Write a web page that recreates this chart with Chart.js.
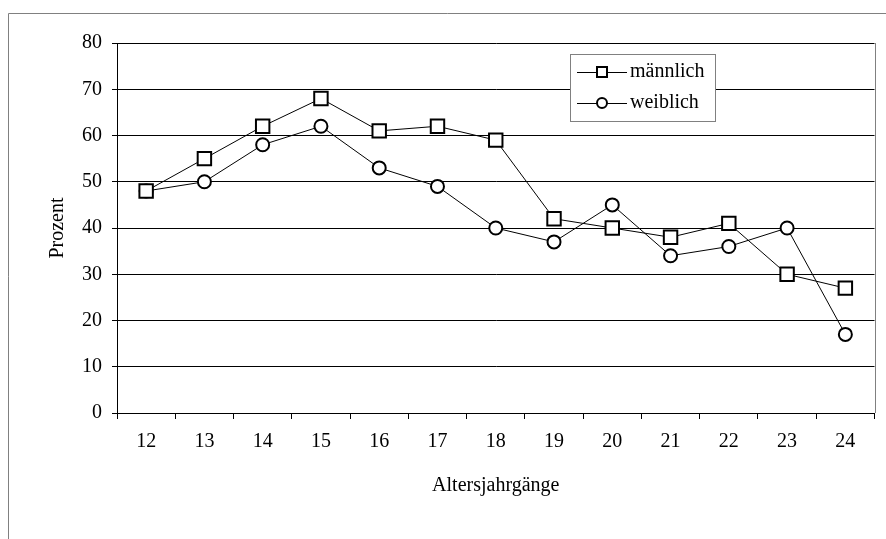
<!DOCTYPE html>
<html>
<head>
<meta charset="utf-8">
<script src="https://cdn.jsdelivr.net/npm/chart.js@4.4.0/dist/chart.umd.min.js"></script>
<style>
  html, body { margin: 0; padding: 0; background: #fff; }
  #wrap { width: 886px; height: 539px; position: relative; }
</style>
</head>
<body>
<div id="wrap"><canvas id="chart" width="886" height="539"></canvas></div>
<script>
const ages = ["12", "13", "14", "15", "16", "17", "18", "19", "20", "21", "22", "23", "24"];
const maleValues = [48, 55, 62, 68, 61, 62, 59, 42, 40, 38, 41, 30, 27];
const femaleValues = [48, 50, 58, 62, 53, 49, 40, 37, 45, 34, 36, 40, 17];
const yTicks = [0, 10, 20, 30, 40, 50, 60, 70, 80];

const FONT = "'Liberation Serif', 'DejaVu Serif', serif";

// outer frame + right border of the plot area
const framePlugin = {
    id: "frame",
    beforeDraw(chart) {
        const c = chart.ctx;
        c.save();
        c.strokeStyle = "#808080";
        c.lineWidth = 1;
        c.beginPath();
        c.moveTo(8.5, 539);
        c.lineTo(8.5, 13.5);
        c.lineTo(886, 13.5);
        c.stroke();
        c.restore();
    },
    afterDatasetsDraw(chart) {
        const a = chart.chartArea;
        const c = chart.ctx;
        c.save();
        c.strokeStyle = "#808080";
        c.lineWidth = 1;
        c.beginPath();
        c.moveTo(Math.round(a.right) + 0.5, a.top);
        c.lineTo(Math.round(a.right) + 0.5, a.bottom);
        c.stroke();
        c.restore();
    }
};

// legend box inside the plot, like the original
const boxLegend = {
    id: "boxLegend",
    afterDraw(chart) {
        const c = chart.ctx;
        const x = 570, y = 54, w = 145, h = 67;
        c.save();
        c.fillStyle = "#fff";
        c.fillRect(x, y, w, h);
        c.strokeStyle = "#808080";
        c.lineWidth = 1;
        c.strokeRect(x + 0.5, y + 0.5, w, h);
        chart.data.datasets.forEach((ds, i) => {
            const cy = 72 + i * 31;
            c.strokeStyle = "#000";
            c.lineWidth = 1;
            c.beginPath();
            c.moveTo(577, cy + 0.5);
            c.lineTo(627, cy + 0.5);
            c.stroke();
            c.fillStyle = "#fff";
            c.lineWidth = 2;
            if (ds.pointStyle === "rect") {
                c.fillRect(597, cy - 5, 10, 10);
                c.strokeRect(597, cy - 5, 10, 10);
            } else {
                c.beginPath();
                c.arc(602, cy, 5, 0, Math.PI * 2);
                c.fill();
                c.stroke();
            }
            c.fillStyle = "#000";
            c.font = "20px " + FONT;
            c.textBaseline = "middle";
            c.textAlign = "left";
            c.fillText(ds.label, 630, cy);
        });
        c.restore();
    }
};

new Chart(document.getElementById("chart"), {
    type: "line",
    data: {
        labels: ages,
        datasets: [
            {
                label: "männlich",
                data: maleValues,
                borderColor: "#000",
                borderWidth: 1,
                pointStyle: "rect",
                pointRadius: 9.5,
                pointBorderWidth: 2,
                pointBackgroundColor: "#fff",
                pointBorderColor: "#000",
                tension: 0
            },
            {
                label: "weiblich",
                data: femaleValues,
                borderColor: "#000",
                borderWidth: 1,
                pointStyle: "circle",
                pointRadius: 6.5,
                pointBorderWidth: 2,
                pointBackgroundColor: "#fff",
                pointBorderColor: "#000",
                tension: 0
            }
        ]
    },
    options: {
        responsive: false,
        animation: false,
        layout: { padding: { top: 43, right: 8, left: 0, bottom: 0 } },
        plugins: {
            legend: { display: false },
            tooltip: { enabled: false }
        },
        scales: {
            x: {
                offset: true,
                grid: {
                    offset: true,
                    drawOnChartArea: false,
                    drawTicks: true,
                    tickLength: 6,
                    color: "#000"
                },
                border: { color: "#000", width: 1 },
                ticks: { color: "#000", font: { family: FONT, size: 20 }, padding: 11 },
                title: {
                    display: true,
                    text: "Altersjahrgänge",
                    color: "#000",
                    font: { family: FONT, size: 20 },
                    padding: { bottom: 41 }
                },
                afterFit(scale) { scale.height = 126; }
            },
            y: {
                min: 0,
                max: 80,
                afterBuildTicks(scale) { scale.ticks = yTicks.map(v => ({ value: v })); },
                grid: { color: "#000", tickLength: 5, lineWidth: 1 },
                border: { color: "#000", width: 1 },
                ticks: { color: "#000", font: { family: FONT, size: 20 }, padding: 10 },
                title: {
                    display: true,
                    text: "Prozent",
                    color: "#000",
                    font: { family: FONT, size: 20 },
                    padding: { top: 46 }
                },
                afterFit(scale) { scale.width = 117; }
            }
        }
    },
    plugins: [framePlugin, boxLegend]
});
</script>
</body>
</html>
